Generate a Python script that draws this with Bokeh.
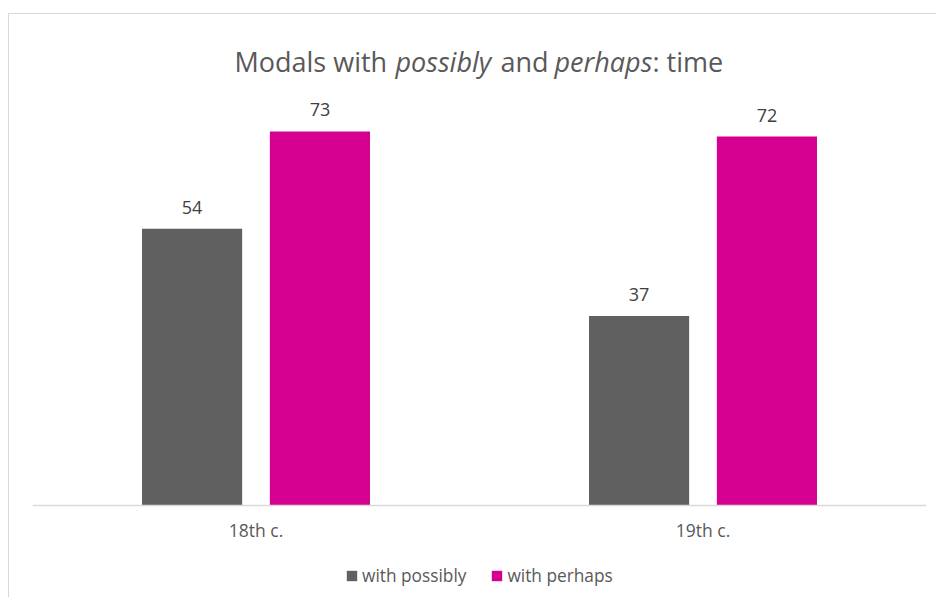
from bokeh.plotting import figure
from bokeh.models import ColumnDataSource, Legend, LegendItem, Label, LabelSet, FactorRange, Range1d
from bokeh.core.properties import value
from bokeh.transform import dodge
from bokeh.embed import file_html
from bokeh.resources import INLINE

categories = ["18th c.", "19th c."]
with_possibly = [54, 37]
with_perhaps = [73, 72]
series_names = ["with possibly", "with perhaps"]

GRAY = "#606060"
PINK = "#d5008f"
FONT = "Open Sans"

src = ColumnDataSource(dict(cat=categories, possibly=with_possibly, perhaps=with_perhaps,
                            lp=[str(v) for v in with_possibly], lh=[str(v) for v in with_perhaps]))

# value axis 0..80 occupies 410 px; frame extended above/below to hold title and legend
PX = 410 / 80.0
p = figure(x_range=FactorRange(*categories, range_padding=0),
           y_range=Range1d(-(598 - 505) / PX, (505 - 14) / PX),
           width=928, height=584, output_backend="svg", toolbar_location=None,
           min_border_left=23, min_border_right=11, min_border_top=0, min_border_bottom=0)
p.margin = (13, 0, 0, 8)
p.styles = {"border-top": "1px solid #d9d9d9", "border-left": "1px solid #d9d9d9"}
p.outline_line_color = None
p.xgrid.visible = False
p.ygrid.visible = False
p.yaxis.visible = False

r1 = p.vbar(x=dodge("cat", -0.143, range=p.x_range), top="possibly", width=0.224, source=src,
            fill_color=GRAY, line_color=None)
r2 = p.vbar(x=dodge("cat", 0.143, range=p.x_range), top="perhaps", width=0.224, source=src,
            fill_color=PINK, line_color=None)

for col, lab, off in (("possibly", "lp", -0.143), ("perhaps", "lh", 0.143)):
    p.add_layout(LabelSet(x=dodge("cat", off, range=p.x_range), y=col, text=lab, source=src,
                          y_offset=15, text_align="center", text_baseline="bottom",
                          text_font=value(FONT), text_font_size=value("18px"), text_color="#404040"))

ax = p.xaxis[0]
ax.fixed_location = 0
ax.axis_line_color = "#d9d9d9"
ax.axis_line_width = 1.5
ax.major_tick_line_color = None
ax.minor_tick_line_color = None
ax.major_label_text_font = FONT
ax.major_label_text_font_size = "17.5px"
ax.major_label_text_color = "#595959"
ax.major_label_standoff = 6

legend = Legend(items=[LegendItem(label=series_names[0], renderers=[r1]),
                       LegendItem(label=series_names[1], renderers=[r2])],
                orientation="horizontal", location=(313, 11),
                label_text_font=FONT, label_text_font_size="17.3px", label_text_color="#595959",
                glyph_width=13, glyph_height=13, label_standoff=4, spacing=24,
                border_line_color=None, background_fill_alpha=0, margin=0, padding=4)
p.add_layout(legend)

title_parts = [("Modals with", "normal", 202), ("possibly", "italic", 363), ("and", "normal", 468),
               ("perhaps", "italic", 522), (": time", "normal", 620)]
for txt, style, dx in title_parts:
    p.add_layout(Label(x=dx, y=(505 - 61) / PX, x_units="screen", y_units="data", text=txt,
                       text_font=FONT, text_font_style=style, text_font_size="27px",
                       text_color="#595959", text_baseline="alphabetic", text_align="left"))

open("out.html", "w").write(file_html(p, INLINE))
